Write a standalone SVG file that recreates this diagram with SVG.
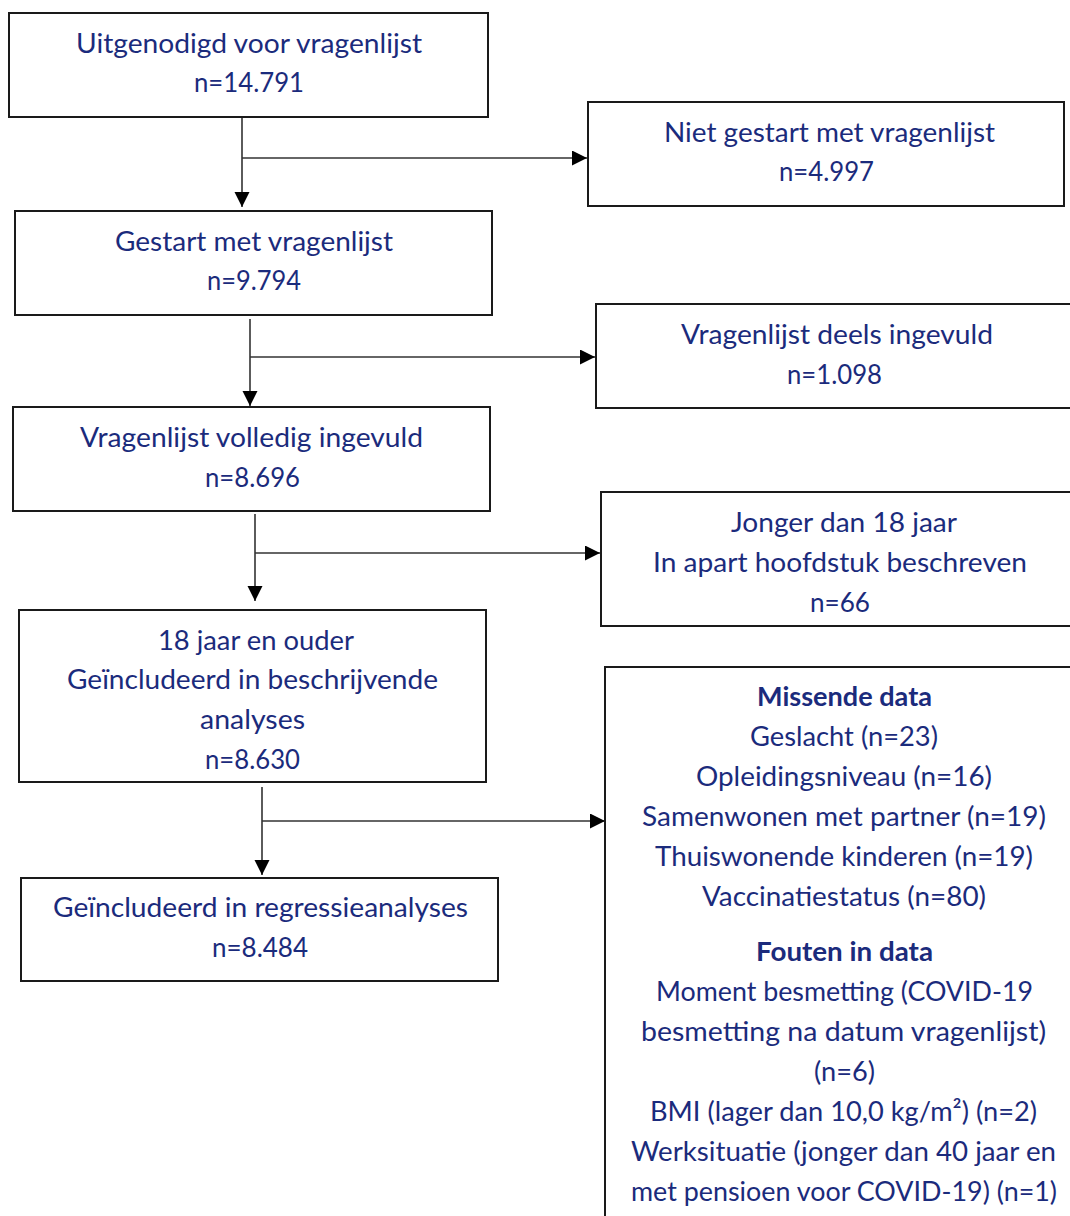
<svg xmlns="http://www.w3.org/2000/svg" width="1070" height="1216" viewBox="0 0 1070 1216">
<style>
.box{fill:#fff;stroke:#1a1a1a;stroke-width:2}
.t{font-family:"Lato","Noto Sans",sans-serif;font-size:27px;fill:#1b2b7c;text-anchor:middle}
.b{font-weight:bold}
.c{stroke:#333;stroke-width:1.6;fill:none}
</style>
<defs>
<marker id="ah" markerUnits="userSpaceOnUse" markerWidth="16" markerHeight="16" refX="15" refY="7.5" orient="auto">
<path d="M0,0 L15,7.5 L0,15 z" fill="#000"/>
</marker>
</defs>
<rect width="1070" height="1216" fill="#fff"/>
<g id="connectors">
<path class="c" d="M242,117 V207" marker-end="url(#ah)"/>
<path class="c" d="M242,158 H587" marker-end="url(#ah)"/>
<path class="c" d="M250,319 V406" marker-end="url(#ah)"/>
<path class="c" d="M250,357 H595" marker-end="url(#ah)"/>
<path class="c" d="M255,514 V601" marker-end="url(#ah)"/>
<path class="c" d="M255,553 H600" marker-end="url(#ah)"/>
<path class="c" d="M262,787 V875" marker-end="url(#ah)"/>
<path class="c" d="M262,821 H605" marker-end="url(#ah)"/>
</g>
<g id="n1">
<rect class="box" x="9" y="13" width="479" height="104"/>
<text class="t" x="249" y="53" textLength="346" lengthAdjust="spacingAndGlyphs">Uitgenodigd voor vragenlijst</text>
<text class="t" x="249" y="92" textLength="110" lengthAdjust="spacingAndGlyphs">n=14.791</text>
</g>
<g id="n2">
<rect class="box" x="588" y="102" width="476" height="104"/>
<text class="t" x="829.5" y="142" textLength="331" lengthAdjust="spacingAndGlyphs">Niet gestart met vragenlijst</text>
<text class="t" x="826.5" y="181" textLength="95" lengthAdjust="spacingAndGlyphs">n=4.997</text>
</g>
<g id="n3">
<rect class="box" x="15" y="211" width="477" height="104"/>
<text class="t" x="254" y="251" textLength="278" lengthAdjust="spacingAndGlyphs">Gestart met vragenlijst</text>
<text class="t" x="254" y="290" textLength="94" lengthAdjust="spacingAndGlyphs">n=9.794</text>
</g>
<g id="n4">
<rect class="box" x="596" y="304" width="480" height="104"/>
<text class="t" x="837" y="344" textLength="312" lengthAdjust="spacingAndGlyphs">Vragenlijst deels ingevuld</text>
<text class="t" x="834.5" y="384" textLength="95" lengthAdjust="spacingAndGlyphs">n=1.098</text>
</g>
<g id="n5">
<rect class="box" x="13" y="407" width="477" height="104"/>
<text class="t" x="251.5" y="447" textLength="343" lengthAdjust="spacingAndGlyphs">Vragenlijst volledig ingevuld</text>
<text class="t" x="252.5" y="487" textLength="95" lengthAdjust="spacingAndGlyphs">n=8.696</text>
</g>
<g id="n6">
<rect class="box" x="601" y="492" width="475" height="134"/>
<text class="t" x="844" y="532" textLength="226" lengthAdjust="spacingAndGlyphs">Jonger dan 18 jaar</text>
<text class="t" x="840" y="572" textLength="374" lengthAdjust="spacingAndGlyphs">In apart hoofdstuk beschreven</text>
<text class="t" x="840" y="612" textLength="60" lengthAdjust="spacingAndGlyphs">n=66</text>
</g>
<g id="n7">
<rect class="box" x="19" y="610" width="467" height="172"/>
<text class="t" x="256" y="650" textLength="196" lengthAdjust="spacingAndGlyphs">18 jaar en ouder</text>
<text class="t" x="252.5" y="689" textLength="371" lengthAdjust="spacingAndGlyphs">Geïncludeerd in beschrijvende</text>
<text class="t" x="252.5" y="729" textLength="105" lengthAdjust="spacingAndGlyphs">analyses</text>
<text class="t" x="252.5" y="769" textLength="95" lengthAdjust="spacingAndGlyphs">n=8.630</text>
</g>
<g id="n8">
<rect class="box" x="605" y="667" width="471" height="560"/>
<text class="t b" x="844.5" y="706" textLength="175" lengthAdjust="spacingAndGlyphs">Missende data</text>
<text class="t" x="844" y="746" textLength="188" lengthAdjust="spacingAndGlyphs">Geslacht (n=23)</text>
<text class="t" x="844" y="786" textLength="296" lengthAdjust="spacingAndGlyphs">Opleidingsniveau (n=16)</text>
<text class="t" x="844" y="826" textLength="404" lengthAdjust="spacingAndGlyphs">Samenwonen met partner (n=19)</text>
<text class="t" x="844" y="866" textLength="378" lengthAdjust="spacingAndGlyphs">Thuiswonende kinderen (n=19)</text>
<text class="t" x="844" y="906" textLength="284" lengthAdjust="spacingAndGlyphs">Vaccinatiestatus (n=80)</text>
<text class="t b" x="844.5" y="961" textLength="177" lengthAdjust="spacingAndGlyphs">Fouten in data</text>
<text class="t" x="844.5" y="1001" textLength="377" lengthAdjust="spacingAndGlyphs">Moment besmetting (COVID-19</text>
<text class="t" x="843.5" y="1041" textLength="405" lengthAdjust="spacingAndGlyphs">besmetting na datum vragenlijst)</text>
<text class="t" x="844.5" y="1081" textLength="61" lengthAdjust="spacingAndGlyphs">(n=6)</text>
<text class="t" x="843.5" y="1121" textLength="387" lengthAdjust="spacingAndGlyphs">BMI (lager dan 10,0 kg/m²) (n=2)</text>
<text class="t" x="843.5" y="1161" textLength="425" lengthAdjust="spacingAndGlyphs">Werksituatie (jonger dan 40 jaar en</text>
<text class="t" x="844" y="1201" textLength="426" lengthAdjust="spacingAndGlyphs">met pensioen voor COVID-19) (n=1)</text>
</g>
<g id="n9">
<rect class="box" x="21" y="878" width="477" height="103"/>
<text class="t" x="260.5" y="917" textLength="415" lengthAdjust="spacingAndGlyphs">Geïncludeerd in regressieanalyses</text>
<text class="t" x="260" y="957" textLength="96" lengthAdjust="spacingAndGlyphs">n=8.484</text>
</g>
</svg>
